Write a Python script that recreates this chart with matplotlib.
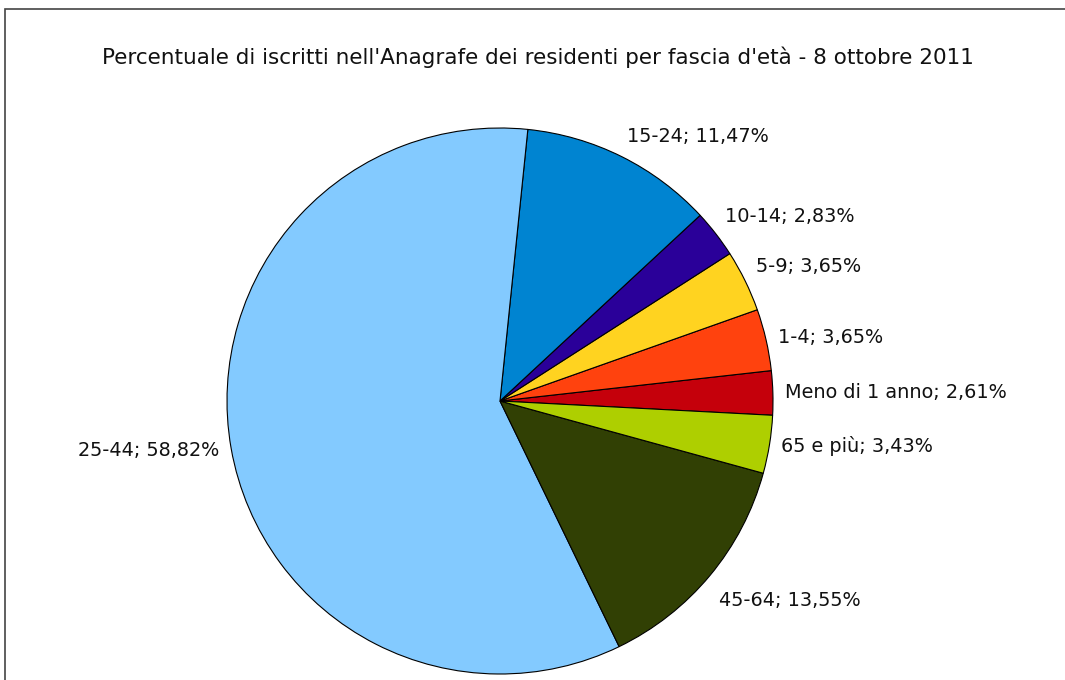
import numpy as np
import matplotlib
matplotlib.use("Agg")
import matplotlib.pyplot as plt
from matplotlib.patches import Rectangle

# age bands, in the order the slices run counter-clockwise
labels = ["Meno di 1 anno", "1-4", "5-9", "10-14", "15-24", "25-44", "45-64", "65 e più"]
values = [2.61, 3.65, 3.65, 2.83, 11.47, 58.82, 13.55, 3.43]
colors = ["#c5000b", "#ff420e", "#ffd320", "#2a0099", "#0084d1", "#83caff", "#314004", "#aecf00"]
title = "Percentuale di iscritti nell'Anagrafe dei residenti per fascia d'età - 8 ottobre 2011"

W, H = 1065, 680
fig = plt.figure(figsize=(W / 100, H / 100), dpi=100)
fig.patch.set_facecolor("white")

# pie centre (500, 401) px, radius 273 px
cx, cy, r = 500, 401, 273
ax = fig.add_axes([(cx - r) / W, (H - cy - r) / H, 2 * r / W, 2 * r / H])

start = -3.0
wedges, _ = ax.pie(values, colors=colors, startangle=start, counterclock=True,
                   wedgeprops=dict(edgecolor="black", linewidth=0.8))
ax.set_xlim(-1, 1)
ax.set_ylim(-1, 1)
ax.set_aspect("equal")
ax.axis("off")

# labels placed just outside each slice, anchored on the corner nearest the pie
for w, lab, v in zip(wedges, labels, values):
    mid = np.deg2rad((w.theta1 + w.theta2) / 2)
    x, y = 1.044 * np.cos(mid), 1.044 * np.sin(mid)
    ha = "left" if x >= 0 else "right"
    s = np.sin(mid)
    if abs(s) < 0.3:
        va = "center"
    elif s > 0:
        va = "bottom"
    else:
        va = "top"
        y -= 0.03
    txt = f"{lab}; {v:.2f}%".replace(".", ",")
    ax.text(x, y, txt, ha=ha, va=va, fontsize=13.9, color="#111111", clip_on=False)

fig.text(538 / W, 1 - 57 / H, title, ha="center", va="center", fontsize=15.5, color="#111111")

# outer chart frame (only top and left edges are visible)
fig.patches.append(Rectangle((5 / W, -0.5), 2, (H - 9) / H + 0.5, transform=fig.transFigure,
                             fill=False, edgecolor="#444444", linewidth=1.2))

fig.savefig("out.png", dpi=100)
